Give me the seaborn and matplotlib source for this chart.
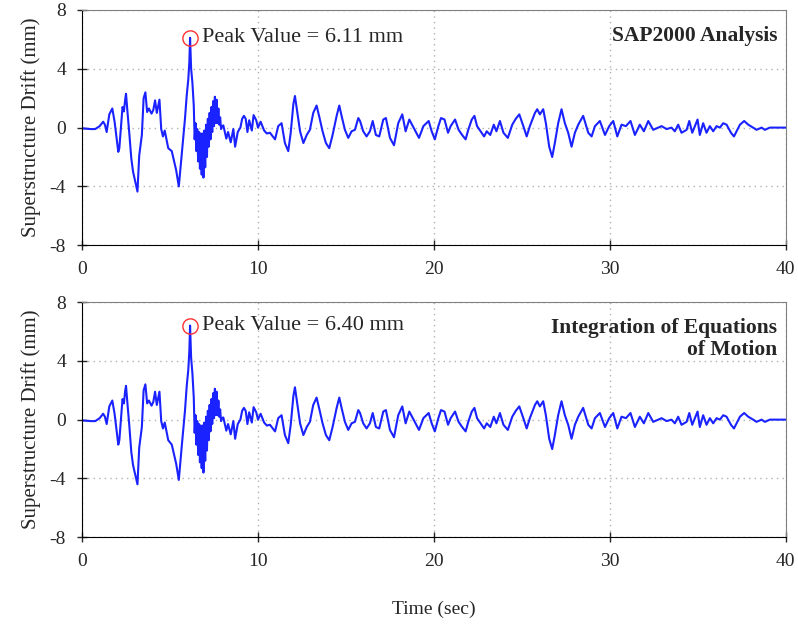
import matplotlib
matplotlib.use("Agg")
import matplotlib.pyplot as plt
import seaborn as sns
import pandas as pd

# time axis (sec)
time_s = [0.0, 0.5, 0.75, 1.0, 1.2, 1.3, 1.4, 1.55, 1.72, 1.85, 2.06, 2.12, 2.3, 2.38, 2.45, 2.5, 2.58,
          2.68, 2.8, 2.9, 3.15, 3.25, 3.4, 3.5, 3.6, 3.7, 3.8, 3.95, 4.05, 4.15, 4.25, 4.4, 4.5,
          4.6, 4.7, 4.9, 5.1, 5.35, 5.5, 5.66, 5.85, 5.95, 6.04, 6.1, 6.14, 6.2, 6.27,
          6.35, 6.40, 6.45, 6.50, 6.55, 6.60, 6.65, 6.70, 6.75, 6.80, 6.85, 6.90, 6.95, 7.00,
          7.05, 7.10, 7.15, 7.20, 7.25, 7.30, 7.35, 7.40, 7.45, 7.50, 7.55, 7.60, 7.65, 7.70,
          7.75, 7.80, 7.85, 7.90, 7.95,
          8.03, 8.2, 8.3, 8.45, 8.6, 8.7, 8.85, 9.0, 9.1, 9.2, 9.3, 9.4, 9.5, 9.65, 9.75, 9.9,
          10.0, 10.15, 10.35, 10.5, 10.68, 10.97, 11.15, 11.34, 11.53, 11.72, 11.86, 12.01, 12.1,
          12.24, 12.39, 12.58, 12.77, 12.95, 13.14, 13.33, 13.49, 13.67, 13.86, 14.05, 14.24,
          14.47, 14.62, 14.75, 14.94, 15.13, 15.32, 15.51, 15.7, 15.8, 15.98, 16.17, 16.36,
          16.52, 16.7, 16.89, 17.12, 17.27, 17.5, 17.73, 17.97, 18.2, 18.39, 18.6, 18.8, 18.95,
          19.15, 19.4, 19.7, 19.87, 20.05, 20.25, 20.4, 20.6, 20.8, 20.95, 21.2, 21.4, 21.6,
          21.8, 21.95, 22.15, 22.3, 22.45, 22.65, 22.85, 23.0, 23.2, 23.4, 23.55, 23.75, 23.95,
          24.2, 24.45, 24.65, 24.85, 25.08, 25.27, 25.45, 25.74, 25.87, 26.02, 26.21, 26.36,
          26.55, 26.72, 26.87, 27.06, 27.25, 27.44, 27.63, 27.82, 28.01, 28.2, 28.48, 28.77,
          28.96, 29.15, 29.43, 29.72, 29.96, 30.19, 30.42, 30.66, 30.91, 31.17, 31.42, 31.7,
          31.93, 32.18, 32.46, 32.74, 32.94, 33.22, 33.5, 33.69, 33.88, 34.07, 34.36, 34.51,
          34.68, 34.83, 34.98, 35.11, 35.3, 35.49, 35.68, 35.87, 36.06, 36.25, 36.44, 36.63,
          36.88, 37.05, 37.2, 37.39, 37.63, 37.86, 38.14, 38.33, 38.62, 38.81, 39.09, 40.0]

# SAP2000 analysis drift (mm)
drift_sap = [-0.05, -0.1, -0.1, 0.1, 0.4, 0.2, -0.3, 0.9, 1.3, 0.4, -1.65, -1.4, 1.4, 1.1, 1.9, 2.3, 1.1,
             -0.3, -2.1, -3.0, -4.35, -1.9, -0.5, 2.0, 2.4, 1.06, 1.3, 0.95, 1.2, 1.85, 1.0, 1.9, -0.1,
             -0.6, -0.2, -1.4, -1.6, -2.9, -4.0, -1.9, 0.6, 2.2, 3.3, 4.5, 6.11, 4.0, 3.1,
             1.5, -0.8, 0.3, -1.6, -0.1, -2.3, -0.3, -2.8, -0.4, -3.2, -0.4, -3.4, -0.2, -2.7,
             0.2, -2.0, 0.6, -1.3, 1.0, -0.8, 1.4, -0.3, 1.8, 0.1, 2.1, 0.3, 1.9, 0.3,
             1.3, 0.2, 0.7, -0.1, 0.1,
             0.15, -0.75, -0.3, -1.0, -0.1, -1.3, -0.3, 0.0, 0.6, 0.8, 0.6, -0.3, 0.5, -0.2, 0.85, 0.5,
             0.0, 0.4, -0.2, -0.4, -0.35, -0.8, 0.1, 0.3, -1.05, -1.6, -0.35, 1.6, 2.15,
             1.0, -0.25, -1.05, -0.5, -0.15, 1.0, 1.5, 0.7, -0.25, -1.05, -1.4, -0.5,
             0.8, 1.5, 0.8, -0.15, -0.7, -0.25, -0.15, 0.65, 0.45, -0.25, -0.6, -0.25,
             0.45, -0.5, -0.6, 0.55, 0.65, -0.7, -1.2, 0.3, 0.9, -0.25, 0.55, 0.1, -0.25,
             -0.7, 0.1, 0.45, -0.25, -0.8, 0.1, 0.65, 0.55, -0.35, 0.1, 0.55, -0.15, -0.5,
             -0.8, -0.15, 0.55, 0.8, 0.1, -0.25, -0.6, -0.25, -0.5, 0.2, -0.25, 0.45, -0.35,
             -0.7, 0.2, 0.6, 0.9, 0.1, -0.6, 0.1, 1.0, 1.25, 0.9, 1.25, 0.3,
             -1.3, -2.0, -1.05, 0.3, 1.25, 0.3, -0.35, -1.3, -0.35, 0.2, 0.8, -0.35,
             -0.6, 0.1, 0.45, -0.5, 0.1, 0.45, -0.6, 0.2, 0.1, 0.45, -0.5, 0.2,
             -0.25, 0.45, -0.15, 0.0, 0.1, -0.1, 0.0, -0.25, 0.2, -0.35, -0.15, 0.45,
             -0.35, 0.1, 0.55, -0.5, 0.3, -0.35, 0.1, -0.25, 0.1, 0.0, 0.3, 0.2,
             -0.35, -0.6, -0.25, 0.2, 0.45, 0.2, 0.0, -0.15, 0.0, -0.15, 0.0, 0.0]

# integration of equations of motion drift (mm)
drift_eom = [-0.05, -0.1, -0.1, 0.1, 0.4, 0.2, -0.3, 0.9, 1.3, 0.4, -1.7, -1.4, 1.4, 1.1, 1.95, 2.3, 1.1,
             -0.3, -2.2, -3.1, -4.4, -1.9, -0.5, 2.0, 2.4, 1.1, 1.3, 0.95, 1.2, 1.9, 1.0, 1.9, -0.1,
             -0.6, -0.2, -1.4, -1.7, -3.0, -4.1, -1.9, 0.6, 2.3, 3.4, 4.7, 6.40, 4.2, 3.2,
             1.5, -0.9, 0.3, -1.7, -0.1, -2.4, -0.3, -2.9, -0.4, -3.3, -0.4, -3.6, -0.2, -2.8,
             0.2, -2.1, 0.6, -1.4, 1.0, -0.8, 1.4, -0.3, 1.8, 0.1, 2.1, 0.3, 1.9, 0.3,
             1.3, 0.2, 0.7, -0.1, 0.1,
             0.15, -0.75, -0.3, -1.0, -0.1, -1.3, -0.3, 0.0, 0.6, 0.8, 0.6, -0.3, 0.5, -0.2, 0.85, 0.5,
             0.0, 0.4, -0.2, -0.4, -0.35, -0.8, 0.1, 0.3, -1.05, -1.6, -0.35, 1.6, 2.2,
             1.0, -0.25, -1.05, -0.5, -0.15, 1.0, 1.5, 0.7, -0.25, -1.05, -1.4, -0.5,
             0.8, 1.5, 0.8, -0.15, -0.7, -0.25, -0.15, 0.65, 0.45, -0.25, -0.6, -0.25,
             0.45, -0.5, -0.6, 0.55, 0.65, -0.7, -1.2, 0.3, 0.9, -0.25, 0.55, 0.1, -0.25,
             -0.7, 0.1, 0.45, -0.25, -0.8, 0.1, 0.65, 0.55, -0.35, 0.1, 0.55, -0.15, -0.5,
             -0.8, -0.15, 0.55, 0.8, 0.1, -0.25, -0.6, -0.25, -0.5, 0.2, -0.25, 0.45, -0.35,
             -0.7, 0.2, 0.6, 0.9, 0.1, -0.6, 0.1, 1.0, 1.25, 0.9, 1.25, 0.3,
             -1.3, -2.0, -1.05, 0.3, 1.25, 0.3, -0.35, -1.3, -0.35, 0.2, 0.8, -0.35,
             -0.6, 0.1, 0.45, -0.5, 0.1, 0.45, -0.6, 0.2, 0.1, 0.45, -0.5, 0.2,
             -0.25, 0.45, -0.15, 0.0, 0.1, -0.1, 0.0, -0.25, 0.2, -0.35, -0.15, 0.45,
             -0.35, 0.1, 0.55, -0.5, 0.3, -0.35, 0.1, -0.25, 0.1, 0.0, 0.3, 0.2,
             -0.35, -0.6, -0.25, 0.2, 0.45, 0.2, 0.0, -0.15, 0.0, -0.15, 0.0, 0.0]

peak_time = [6.14, 6.14]
peak_vals = [6.11, 6.40]
titles = ["SAP2000 Analysis", "Integration of Equations\nof Motion"]
x_ticks = [0, 10, 20, 30, 40]
y_ticks = [-8, -4, 0, 4, 8]

sns.set_style("ticks")
plt.rcParams['font.family'] = ['Liberation Serif', 'DejaVu Serif']
plt.rcParams['axes.unicode_minus'] = False

fig = plt.figure(figsize=(7.98, 6.24), dpi=100)
ax1 = fig.add_axes([0.1028, 0.607, 0.882, 0.377])
ax2 = fig.add_axes([0.1028, 0.139, 0.882, 0.377])

for ax, vals, pk, title in zip([ax1, ax2], [drift_sap, drift_eom], peak_vals, titles):
    df = pd.DataFrame({"t": time_s, "d": vals})
    sns.lineplot(data=df, x="t", y="d", ax=ax, color="#1a22ff", linewidth=1.5,
                 estimator=None, sort=False)
    ax.plot(peak_time[0], pk, "o", mfc="none", mec="#ff3030", ms=11, mew=1.0)
    ax.text(peak_time[0] + 0.7, pk, f"Peak Value = {pk:.2f} mm", fontsize=16,
            va="center", ha="left")
    ax.text(0.988, 0.93, title, transform=ax.transAxes, ha="right", va="top",
            fontsize=15.5, fontweight="bold", linespacing=1.1)
    ax.set_xlim(0, 40)
    ax.set_ylim(-8, 8)
    ax.set_xticks(x_ticks)
    ax.set_yticks(y_ticks)
    ax.tick_params(labelsize=14, direction="inout", length=7, width=1, pad=8)
    ax.grid(True, linestyle=(0, (1, 3)), color="#b0b0b0", linewidth=1)
    ax.set_xlabel("")
    ax.set_ylabel("Superstructure Drift (mm)", fontsize=15, labelpad=6)
    for s in ["top", "right"]:
        ax.spines[s].set_visible(True)
        ax.spines[s].set_color("#808080")
    for s in ["left", "bottom"]:
        ax.spines[s].set_color("black")

ax2.set_xlabel("Time (sec)", fontsize=14, labelpad=22)

fig.savefig("out.png", dpi=100)
